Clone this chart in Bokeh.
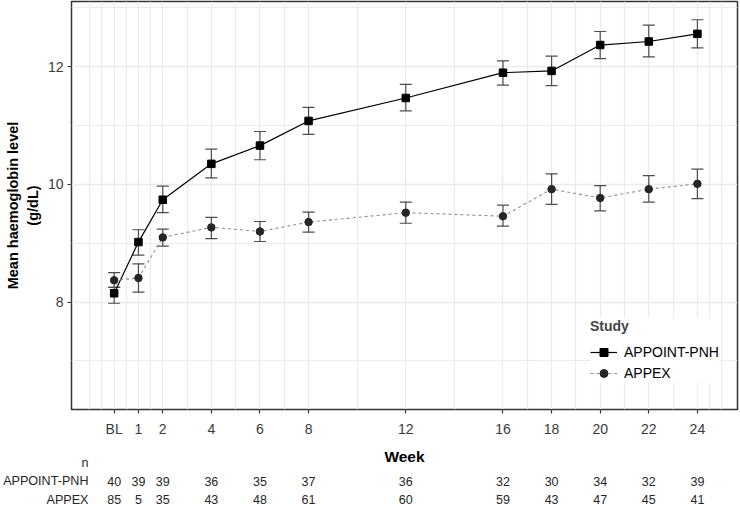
from bokeh.plotting import figure
from bokeh.models import (ColumnDataSource, Range1d, FixedTicker, Whisker, TeeHead,
                          Legend, LegendItem, Title)
from bokeh.layouts import column
from bokeh.embed import file_html
from bokeh.resources import INLINE
from bokeh.core.properties import value

# ---------------- data ----------------
weeks = [0, 1, 2, 4, 6, 8, 12, 16, 18, 20, 22, 24]
week_labels = ["BL", "1", "2", "4", "6", "8", "12", "16", "18", "20", "22", "24"]

appoint_mean = [8.15, 9.02, 9.74, 10.35, 10.66, 11.08, 11.47, 11.90, 11.93, 12.37, 12.43, 12.56]
appoint_low = [7.98, 8.80, 9.52, 10.11, 10.42, 10.85, 11.25, 11.69, 11.68, 12.14, 12.17, 12.32]
appoint_high = [8.25, 9.23, 9.97, 10.60, 10.90, 11.31, 11.70, 12.10, 12.18, 12.60, 12.71, 12.80]

appex_mean = [8.37, 8.41, 9.10, 9.27, 9.20, 9.36, 9.52, 9.46, 9.92, 9.77, 9.92, 10.01]
appex_low = [8.25, 8.17, 8.95, 9.08, 9.03, 9.19, 9.34, 9.29, 9.66, 9.55, 9.70, 9.76]
appex_high = [8.50, 8.65, 9.24, 9.44, 9.37, 9.53, 9.70, 9.65, 10.18, 9.98, 10.15, 10.26]

n_appoint = [40, 39, 39, 36, 35, 37, 36, 32, 30, 34, 32, 39]
n_appex = [85, 5, 35, 43, 48, 61, 60, 59, 43, 47, 45, 41]

y_ticks = [8, 10, 12]
y_minor = [7, 9, 11, 13]
x_minor = [-1, -0.5, 0.5, 1.5, 3, 5, 7, 10, 14, 17, 19, 21, 23, 24.5, 25]
table_rows = ["APPEX", "APPOINT-PNH", "n"]

# ---------------- layout constants ----------------
FONT = "Liberation Sans"
W = 739
MAIN_H = 441
TABLE_H = 66
LEFT = 70
X_START, X_END = -1.755, 25.65
Y_START, Y_END = 6.174, 13.11
GRID = "#EBEBEB"
ROW_PX = 18.5

src_a = ColumnDataSource(dict(x=weeks, y=appoint_mean, lo=appoint_low, hi=appoint_high))
src_b = ColumnDataSource(dict(x=weeks, y=appex_mean, lo=appex_low, hi=appex_high))

p = figure(width=W, height=MAIN_H, output_backend="svg", toolbar_location=None,
           x_range=Range1d(X_START, X_END), y_range=Range1d(Y_START, Y_END),
           min_border_left=LEFT, min_border_right=2, min_border_top=1,
           min_border_bottom=32)
p.title.visible = False
p.background_fill_color = "white"
p.border_fill_color = "white"
p.outline_line_color = "#333333"
p.outline_line_width = 1.5

# axes
p.xaxis.ticker = FixedTicker(ticks=weeks, minor_ticks=x_minor)
p.xaxis.major_label_overrides = {w: l for w, l in zip(weeks, week_labels)}
p.yaxis.ticker = FixedTicker(ticks=y_ticks, minor_ticks=y_minor)
for ax in (p.xaxis[0], p.yaxis[0]):
    ax.axis_line_color = None
    ax.major_tick_line_color = "#333333"
    ax.major_tick_line_width = 1.2
    ax.major_tick_out = 4
    ax.major_tick_in = 0
    ax.minor_tick_line_color = None
    ax.major_label_text_font = FONT
    ax.major_label_text_font_size = "14px"
    ax.major_label_text_color = "#3a3a3a"
p.xaxis.major_label_standoff = 7
p.yaxis.major_label_standoff = 4

# y axis title (two lines) as side titles
p.add_layout(Title(text="(g/dL)", align="center", text_font=FONT, text_font_size="14.5px",
                   text_font_style="bold", text_color="black", standoff=7, offset=0), "left")
p.add_layout(Title(text="Mean haemoglobin level", align="center", text_font=FONT,
                   text_font_size="14.5px", text_font_style="bold", text_color="black",
                   standoff=-3, offset=0), "left")

# grids
for g in (p.xgrid[0], p.ygrid[0]):
    g.grid_line_color = GRID
    g.grid_line_width = 1.3
    g.minor_grid_line_color = GRID
    g.minor_grid_line_width = 1.2

# error bars
for src in (src_a, src_b):
    wk = Whisker(base="x", lower="lo", upper="hi", source=src, dimension="height",
                 line_color="#4d4d4d", line_width=1.2, level="underlay",
                 upper_head=TeeHead(size=12, line_color="#4d4d4d", line_width=1.2),
                 lower_head=TeeHead(size=12, line_color="#4d4d4d", line_width=1.2))
    p.add_layout(wk)

# series
la = p.line("x", "y", source=src_a, line_color="black", line_width=1.2)
ma = p.scatter("x", "y", source=src_a, marker="square", size=7.5,
               fill_color="black", line_color="black")
lb = p.line("x", "y", source=src_b, line_color="#8f8f8f", line_width=1.1, line_dash="3 3")
mb = p.scatter("x", "y", source=src_b, marker="circle", size=7.5,
               fill_color="#262626", line_color="#262626")

legend = Legend(items=[LegendItem(label="APPOINT-PNH", renderers=[la, ma]),
                       LegendItem(label="APPEX", renderers=[lb, mb])],
                location=(519, 26), title="Study",
                title_text_font=FONT, title_text_font_style="bold",
                title_text_font_size="14px", title_standoff=8,
                label_text_font=FONT, label_text_font_size="14px",
                label_text_color="black",
                glyph_width=27, glyph_height=20, label_height=20,
                label_standoff=7, spacing=1, padding=6, margin=0,
                border_line_color=None, background_fill_color="white",
                background_fill_alpha=1.0)
p.add_layout(legend)

# ---------------- n table (shares the x range) ----------------
t = figure(width=W, height=TABLE_H, output_backend="svg", toolbar_location=None,
           x_range=p.x_range, y_range=Range1d(-8 / ROW_PX, 2 + 6 / ROW_PX),
           min_border_left=LEFT, min_border_right=2, min_border_top=15,
           min_border_bottom=0, x_axis_location=None)
t.title.visible = False
t.outline_line_color = None
t.background_fill_color = "white"
t.border_fill_color = "white"
t.xgrid.visible = False
t.ygrid.visible = False
t.add_layout(Title(text="Week", align="center", text_font=FONT, text_font_size="15.5px",
                   text_font_style="bold", text_color="black", standoff=-16, offset=0),
             "above")
t.yaxis.ticker = FixedTicker(ticks=list(range(len(table_rows))))
t.yaxis.major_label_overrides = {i: r for i, r in enumerate(table_rows)}
t.yaxis.axis_line_color = None
t.yaxis.major_tick_line_color = None
t.yaxis.minor_tick_line_color = None
t.yaxis.major_tick_out = 0
t.yaxis.major_tick_in = 0
t.yaxis.major_label_standoff = -17
t.yaxis.major_label_text_font = FONT
t.yaxis.major_label_text_font_size = "12.6px"
t.yaxis.major_label_text_color = "#262626"

row_a = table_rows.index("APPOINT-PNH")
row_b = table_rows.index("APPEX")
t.text(x=weeks, y=[row_a] * len(weeks), text=[str(v) for v in n_appoint],
       text_align="center", text_baseline="middle", text_font=value(FONT),
       text_font_size="12.5px", text_color="#262626")
t.text(x=weeks, y=[row_b] * len(weeks), text=[str(v) for v in n_appex],
       text_align="center", text_baseline="middle", text_font=value(FONT),
       text_font_size="12.5px", text_color="#262626")

layout = column(p, t, spacing=0)
open("out.html", "w").write(file_html(layout, INLINE))
